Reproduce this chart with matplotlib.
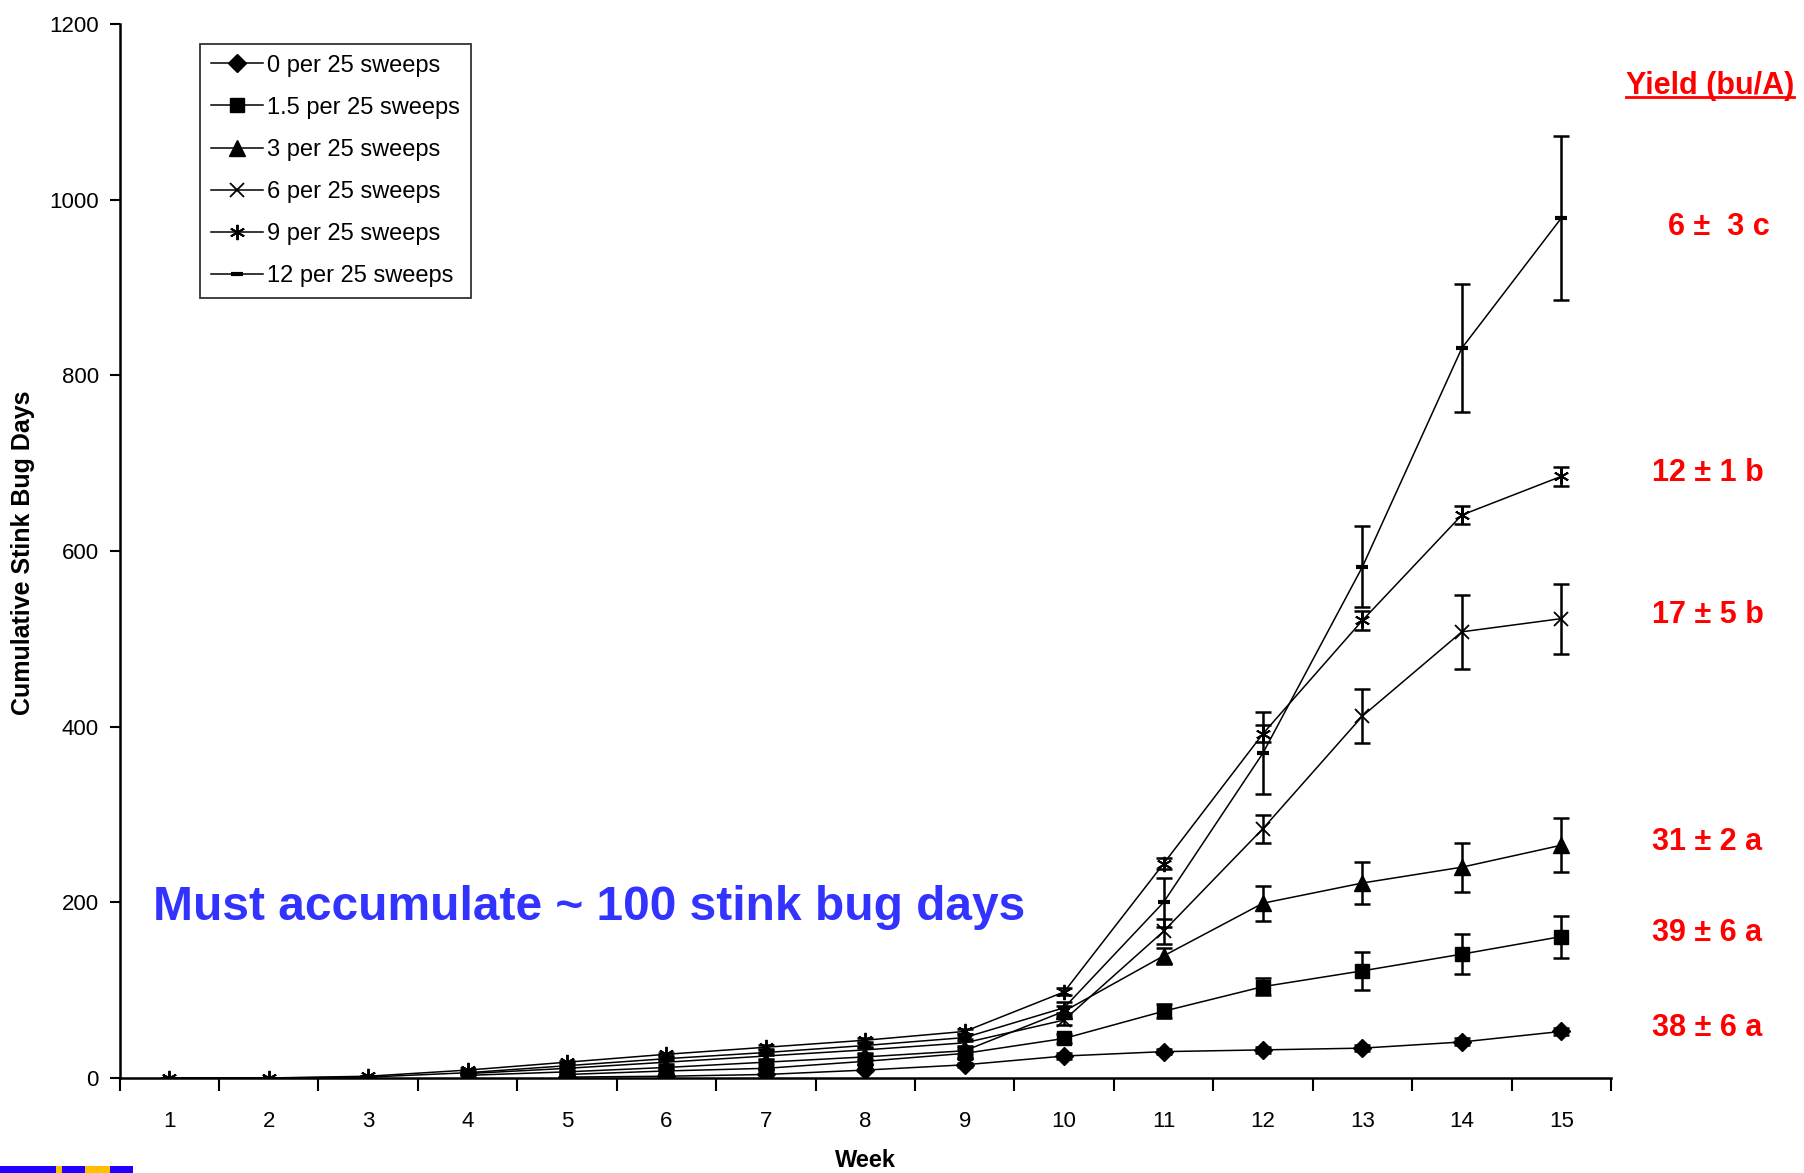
import matplotlib
matplotlib.use("Agg")
import numpy as np
import matplotlib.pyplot as plt
from matplotlib.transforms import blended_transform_factory
from matplotlib.patches import Rectangle
from matplotlib.lines import Line2D

plt.rcParams['font.family'] = ['Liberation Sans', 'DejaVu Sans']

nan = np.nan

# data (no marker visible for the low series in the first weeks)
weeks = list(range(1, 16))
series_labels = ["0 per 25 sweeps", "1.5 per 25 sweeps", "3 per 25 sweeps",
                 "6 per 25 sweeps", "9 per 25 sweeps", "12 per 25 sweeps"]

sbd_0 = [nan, nan, nan, nan, 1, 2, 4, 9, 15, 25, 30, 32, 34, 41, 53]
err_0 = [0, 0, 0, 0, 0.5, 1, 1, 1.5, 2, 3, 3, 3, 3, 4, 4]

sbd_1_5 = [nan, nan, nan, nan, 4, 8, 11, 19, 28, 45, 76, 104, 122, 141, 161]
err_1_5 = [0, 0, 0, 0, 1, 2, 2, 3, 4, 5, 8, 10, 22, 23, 24]

sbd_3 = [nan, nan, nan, 3, 7, 12, 18, 24, 31, 76, 139, 199, 222, 240, 265]
err_3 = [0, 0, 0, 1, 1, 2, 2, 3, 4, 6, 9, 20, 24, 28, 31]

sbd_6 = [nan, nan, nan, 5, 11, 18, 25, 32, 40, 66, 167, 284, 412, 508, 523]
err_6 = [0, 0, 0, 1, 2, 2, 3, 3, 4, 6, 14, 16, 31, 42, 40]

sbd_9 = [0, 0, 2, 9, 18, 27, 35, 43, 53, 98, 244, 392, 521, 641, 685]
err_9 = [0, 0, 0, 1, 1, 2, 2, 2, 3, 4, 6, 10, 11, 10, 11]

sbd_12 = [0, 0, 1, 6, 14, 22, 29, 37, 46, 80, 200, 370, 582, 831, 979]
err_12 = [0, 0, 0, 1, 2, 2, 3, 3, 4, 6, 28, 47, 46, 73, 93]

yield_labels = ["38 ± 6 a", "39 ± 6 a", "31 ± 2 a", "17 ± 5 b", "12 ± 1 b", "6 ±  3 c"]

all_sbd = [sbd_0, sbd_1_5, sbd_3, sbd_6, sbd_9, sbd_12]
all_err = [err_0, err_1_5, err_3, err_6, err_9, err_12]
markers = ['D', 's', '^', 'x', (6, 2, 0), '_']
msizes = [9, 10, 11, 10, 11, 9]
mews = [1, 1, 1, 1.3, 1.4, 3]

fig = plt.figure(figsize=(18.04, 11.73), dpi=100)
ax = fig.add_axes([0.0663, 0.081, 0.8267, 0.8985])

handles = []
for vals, errs, mk, ms, mew, lab in zip(all_sbd, all_err, markers, msizes, mews, series_labels):
    cont = ax.errorbar(weeks, vals, yerr=errs, color='black', lw=1.1,
                       marker=mk, markersize=ms, markerfacecolor='black',
                       ecolor='black', elinewidth=1.8, capsize=6, capthick=1.8, label=lab)
    cont[0].set_markeredgewidth(mew)
    handles.append(cont[0])

ax.set_xlim(0.5, 15.5)
ax.set_ylim(0, 1200)
ax.set_yticks(range(0, 1201, 200))
ax.set_xticks(weeks)
ax.set_xticks([w - 0.5 for w in weeks] + [15.5], minor=True)
ax.tick_params(axis='x', which='major', length=0, pad=24, labelsize=16)
ax.tick_params(axis='x', which='minor', length=9, width=1.5, direction='out')
ax.tick_params(axis='y', length=7, width=1.5, labelsize=16, pad=8)
for s in ('top', 'right'):
    ax.spines[s].set_visible(False)
for s in ('left', 'bottom'):
    ax.spines[s].set_linewidth(1.8)

leg = ax.legend(handles, series_labels, loc='upper left',
                bbox_to_anchor=(200 / 1804, 1 - 44 / 1173), bbox_transform=fig.transFigure,
                fontsize=17, frameon=True, fancybox=False, edgecolor='black',
                handlelength=2.2, handletextpad=0.2, labelspacing=0.85, borderpad=0.45,
                borderaxespad=0, markerscale=1.0)
leg.get_frame().set_linewidth(1.3)

fig.text(23 / 1804, 0.529, "Cumulative Stink Bug Days", rotation=90, fontsize=18,
         fontweight='bold', ha='center', va='center')
fig.text(865 / 1804, 0.011, "Week", fontsize=17, fontweight='bold', ha='center', va='center')

fig.text(153 / 1804, 1 - 907 / 1173, "Must accumulate ~ 100 stink bug days",
         fontsize=34.5, fontweight='bold', color='#3333FF', ha='left', va='center')

# yield labels beside the final value of each series
tr = blended_transform_factory(fig.transFigure, ax.transData)
label_shift = [4, 4, 4, 4, 4, -10]
for vals, lab, dy in zip(all_sbd, yield_labels, label_shift):
    xl = 1668 / 1804 if lab.startswith("6 ") else 1652 / 1804
    ax.text(xl, vals[-1] + dy, lab, transform=tr, fontsize=22, fontweight='bold',
            color='red', ha='left', va='center', clip_on=False)

ytitle = fig.text(1626 / 1804, 1 - 86 / 1173, "Yield (bu/A)", fontsize=22,
                  fontweight='bold', color='red', ha='left', va='center')
fig.canvas.draw()
bb = ytitle.get_window_extent().transformed(fig.transFigure.inverted())
fig.add_artist(Line2D([bb.x0, bb.x1], [bb.y0 + 0.003, bb.y0 + 0.003],
                      transform=fig.transFigure, color='red', lw=2))

# small coloured strip at the bottom-left corner
for x0, x1, c in [(0, 56, '#2200FF'), (56, 62, '#FFC000'), (62, 85, '#2200FF'),
                  (85, 110, '#FFC000'), (110, 133, '#2200FF')]:
    fig.add_artist(Rectangle((x0 / 1804, 0), (x1 - x0) / 1804, 7 / 1173,
                             transform=fig.transFigure, color=c, lw=0))

fig.savefig("out.png", dpi=100)
